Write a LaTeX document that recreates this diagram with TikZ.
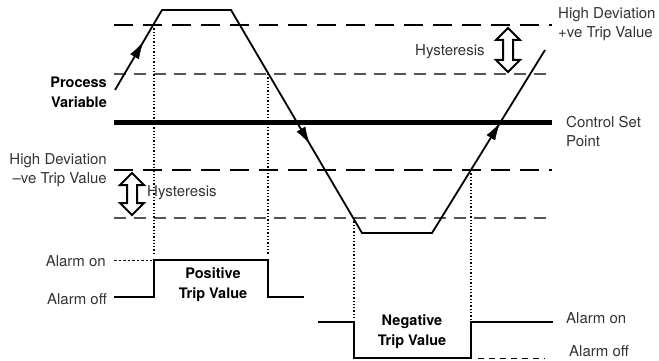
\documentclass[tikz,border=0pt]{standalone}
\usepackage{fontspec}
\setmainfont{TeX Gyre Heros}
\usetikzlibrary{arrows.meta,decorations.markings}
\definecolor{txt}{HTML}{333333}
\definecolor{thin}{HTML}{555555}
\tikzset{
  lbl/.style={inner sep=0pt,text=txt,font=\fontsize{15}{19}\selectfont},
  blbl/.style={inner sep=0pt,text=black,font=\fontsize{14.5}{20}\selectfont\bfseries},
  thickdash/.style={line width=2.8pt,dash pattern=on 19pt off 10pt},
  thindash/.style={line width=1.8pt,draw=thin,dash pattern=on 12pt off 8pt},
  setline/.style={line width=5pt},
  pvline/.style={line width=1.8pt,line join=miter},
  midarrow/.style={postaction={decorate},decoration={markings,
      mark=at position 0.6 with {\arrow{Latex[length=17pt,width=10pt]}}}},
  dotv/.style={line width=1.3pt,dash pattern=on 1.3pt off 2pt},
  pulse/.style={line width=2.2pt,line join=miter},
  offdash/.style={line width=1pt,dash pattern=on 2.5pt off 2pt},
  hyst/.style={line width=2pt,fill=white,line join=miter},
}
\begin{document}
\begin{tikzpicture}[x=1pt,y=-1pt]
\useasboundingbox (0,0) rectangle (659,361);
% horizontal reference lines
\coordinate (hl1) at (114,25);  \coordinate (hr1) at (552,25);
\coordinate (hl2) at (114,74);  \coordinate (hr2) at (552,74);
\coordinate (hl3) at (114,122); \coordinate (hr3) at (552,122);
\coordinate (hl4) at (114,170); \coordinate (hr4) at (552,170);
\coordinate (hl5) at (114,218); \coordinate (hr5) at (552,218);
\draw[thickdash] (hl1) -- (hr1);
\draw[thindash] (hl2) -- (hr2);
\draw[setline] (hl3) -- (hr3);
\draw[thickdash] (hl4) -- (hr4);
\draw[thindash] (hl5) -- (hr5);
% dotted verticals
\draw[dotv] (154,25) -- (154,254);
\draw[dotv] (268,74) -- (268,254);
\draw[dotv] (354,218) -- (354,320);
\draw[dotv] (471,170) -- (471,320);
% process variable
\coordinate (p0) at (115,90);
\coordinate (p1) at (162,10);
\coordinate (p2) at (231,10);
\coordinate (p3) at (362,233);
\coordinate (p4) at (432,233);
\coordinate (p5) at (545,50);
\draw[pvline] (p0) -- (p1) -- (p2) -- (p3) -- (p4) -- (p5);
\path[midarrow] (p0) -- (p1);
\path[midarrow] (p2) -- (p3);
\path[midarrow] (p4) -- (p5);
% positive trip pulse
\draw[pulse] (114,297) -- (154,297) -- (154,260) -- (268,260) -- (268,297) -- (304,297);
\draw[offdash] (114,260) -- (152,260);
% negative trip pulse
\draw[pulse] (318,322) -- (354,322) -- (354,358) -- (471,358) -- (471,322) -- (553,322);
\draw[offdash,dash pattern=on 6pt off 5pt] (478,358) -- (545,358);
% hysteresis arrows
\draw[hyst] (132,173) -- (144,185) -- (137,185) -- (137,203) -- (144,203) -- (132,215)
  -- (120,203) -- (127,203) -- (127,185) -- (120,185) -- cycle;
\draw[hyst] (508,28) -- (520,40) -- (513,40) -- (513,60) -- (520,60) -- (508,72)
  -- (496,60) -- (503,60) -- (503,40) -- (496,40) -- cycle;
% labels
\node[blbl,anchor=east,align=right] (pv) at (107,92) {Process\\Variable};
\node[lbl,anchor=east,align=right] (hdn) at (107,170) {High Deviation\\–ve Trip Value};
\node[lbl,anchor=west] (hy1) at (147,193) {Hysteresis};
\node[lbl,anchor=west] (hy2) at (415,52) {Hysteresis};
\node[lbl,anchor=west,align=left] (hdp) at (558,24) {High Deviation\\+ve Trip Value};
\node[lbl,anchor=west,align=left] (csp) at (566,132) {Control Set\\Point};
\node[lbl,anchor=east] (aon1) at (106,261) {Alarm on};
\node[lbl,anchor=east] (aof1) at (107,299) {Alarm off};
\node[blbl,align=center] (pos) at (213,285) {Positive\\Trip Value};
\node[blbl,align=center] (neg) at (412,332) {Negative\\Trip Value};
\node[lbl,anchor=west] (aon2) at (566,318) {Alarm on};
\node[lbl,anchor=west] (aof2) at (569,351) {Alarm off};
\end{tikzpicture}
\end{document}
